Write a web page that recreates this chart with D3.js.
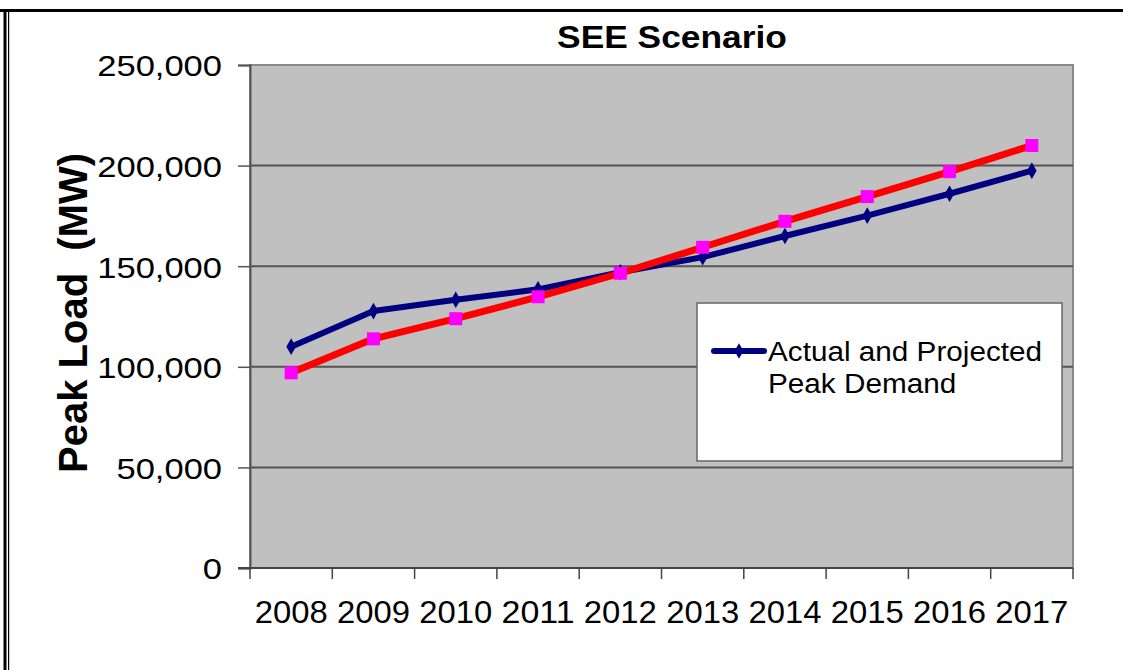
<!DOCTYPE html>
<html>
<head>
<meta charset="utf-8">
<script src="https://cdn.jsdelivr.net/npm/d3@7"></script>
<style>
  body { margin: 0; background: #fff; }
  svg { display: block; font-family: "Liberation Sans", Arial, sans-serif; }
</style>
</head>
<body>
<svg width="1123" height="670"></svg>
<script>
var years = ['2008', '2009', '2010', '2011', '2012', '2013', '2014', '2015', '2016', '2017'];
var actualPeak = [110000, 127700, 133300, 138500, 147000, 154500, 165000, 175100, 186000, 197500];
var seeScenario = [97000, 113900, 123900, 134800, 146500, 159400, 172300, 184600, 197000, 210000];
var yTicks = [0, 50000, 100000, 150000, 200000, 250000];
var chartTitle = 'SEE Scenario';
var yTitle = 'Peak Load  (MW)';
var legendLines = ['Actual and Projected', 'Peak Demand'];

var svg = d3.select('svg');

// stretch a text horizontally (source picture is a bit wider than normal type)
function stretch(sel, k) {
    sel.each(function () {
        var w = this.getComputedTextLength();
        d3.select(this).attr('textLength', w * k).attr('lengthAdjust', 'spacingAndGlyphs');
    });
}

// frame round the slide
svg.append('rect').attr('x', 0).attr('y', 9).attr('width', 1123).attr('height', 3).attr('fill', '#000');
svg.append('rect').attr('x', 3.5).attr('y', 9).attr('width', 3).attr('height', 661).attr('fill', '#000');
svg.append('rect').attr('x', 8).attr('y', 9).attr('width', 1.2).attr('height', 661).attr('fill', '#000');

var margin = { left: 250, top: 65, right: 1073, bottom: 568 };

var x = d3.scaleBand()
    .domain(years)
    .range([margin.left, margin.right]);

var y = d3.scaleLinear()
    .domain([0, 250000])
    .range([margin.bottom, margin.top]);

// plot area
svg.append('rect')
    .attr('x', margin.left).attr('y', margin.top)
    .attr('width', margin.right - margin.left).attr('height', margin.bottom - margin.top)
    .attr('fill', '#c0c0c0')
    .attr('stroke', '#8a8a8a')
    .attr('stroke-width', 2);

// gridlines
svg.append('g')
    .selectAll('line')
    .data(yTicks.filter(function (d) { return d > 0 && d < 250000; }))
    .enter().append('line')
    .attr('x1', margin.left).attr('x2', margin.right)
    .attr('y1', function (d) { return y(d); }).attr('y2', function (d) { return y(d); })
    .attr('stroke', '#555')
    .attr('stroke-width', 2);

// y axis
var yAxis = svg.append('g')
    .attr('transform', 'translate(' + margin.left + ',0)')
    .call(d3.axisLeft(y).tickValues(yTicks).tickFormat(d3.format(',')).tickSize(12).tickPadding(16));
yAxis.select('.domain').attr('stroke', '#555').attr('stroke-width', 2);
yAxis.selectAll('.tick line').attr('stroke', '#555').attr('stroke-width', 1.5);
yAxis.selectAll('.tick text')
    .attr('font-size', 30)
    .attr('fill', '#000')
    .attr('dy', '0.36em')
    .attr('font-family', '"Liberation Sans", Arial, sans-serif')
    .call(stretch, 1.15);

// x axis: ticks on category edges, labels centred
var edges = years.map(function (d) { return x(d); }).concat([margin.right]);
var xAxis = svg.append('g').attr('class', 'x-axis');
xAxis.append('line')
    .attr('x1', margin.left - 12).attr('x2', margin.right)
    .attr('y1', margin.bottom).attr('y2', margin.bottom)
    .attr('stroke', '#444').attr('stroke-width', 2);
xAxis.selectAll('.xt')
    .data(edges)
    .enter().append('line')
    .attr('x1', function (d) { return d; }).attr('x2', function (d) { return d; })
    .attr('y1', margin.bottom).attr('y2', margin.bottom + 11)
    .attr('stroke', '#444').attr('stroke-width', 1.5);
xAxis.selectAll('text')
    .data(years)
    .enter().append('text')
    .attr('x', function (d) { return x(d) + x.bandwidth() / 2; })
    .attr('y', 623)
    .attr('text-anchor', 'middle')
    .attr('font-size', 31)
    .attr('textLength', 73)
    .attr('lengthAdjust', 'spacingAndGlyphs')
    .text(function (d) { return d; });

// title
svg.append('text')
    .attr('x', 672).attr('y', 48)
    .attr('text-anchor', 'middle')
    .attr('font-size', 31)
    .attr('font-weight', 'bold')
    .text(chartTitle)
    .call(stretch, 1.14);

// y title
svg.append('text')
    .attr('transform', 'translate(87,313) rotate(-90)')
    .attr('text-anchor', 'middle')
    .attr('font-size', 40)
    .attr('font-weight', 'bold')
    .style('white-space', 'pre')
    .text(yTitle);

// series lines
var cx = function (d, i) { return x(years[i]) + x.bandwidth() / 2; };
var line = d3.line()
    .x(cx)
    .y(function (d) { return y(d); });

svg.append('path')
    .datum(actualPeak)
    .attr('d', line)
    .attr('fill', 'none')
    .attr('stroke', '#000080')
    .attr('stroke-width', 6)
    .attr('stroke-linejoin', 'round');

svg.append('g')
    .selectAll('path')
    .data(actualPeak)
    .enter().append('path')
    .attr('d', d3.symbol(d3.symbolDiamond, 80))
    .attr('transform', function (d, i) { return 'translate(' + cx(d, i) + ',' + y(d) + ')'; })
    .attr('fill', '#000080');

svg.append('path')
    .datum(seeScenario)
    .attr('d', line)
    .attr('fill', 'none')
    .attr('stroke', '#ff0000')
    .attr('stroke-width', 7)
    .attr('stroke-linejoin', 'round');

svg.append('g')
    .selectAll('rect')
    .data(seeScenario)
    .enter().append('rect')
    .attr('x', function (d, i) { return cx(d, i) - 6.5; })
    .attr('y', function (d) { return y(d) - 6.5; })
    .attr('width', 13).attr('height', 13)
    .attr('fill', '#ff00ff');

// legend
var legend = svg.append('g');
legend.append('rect')
    .attr('x', 697).attr('y', 303)
    .attr('width', 365).attr('height', 158)
    .attr('fill', '#fff')
    .attr('stroke', '#666')
    .attr('stroke-width', 1.5);
legend.append('line')
    .attr('x1', 714).attr('x2', 764)
    .attr('y1', 351).attr('y2', 351)
    .attr('stroke', '#000080').attr('stroke-width', 6).attr('stroke-linecap', 'round');
legend.append('path')
    .attr('d', d3.symbol(d3.symbolDiamond, 70))
    .attr('transform', 'translate(739,351)')
    .attr('fill', '#000080');
legend.selectAll('text')
    .data(legendLines)
    .enter().append('text')
    .attr('x', 768)
    .attr('y', function (d, i) { return 361 + i * 32; })
    .attr('font-size', 27)
    .text(function (d) { return d; })
    .call(stretch, 1.1);
</script>
</body>
</html>
